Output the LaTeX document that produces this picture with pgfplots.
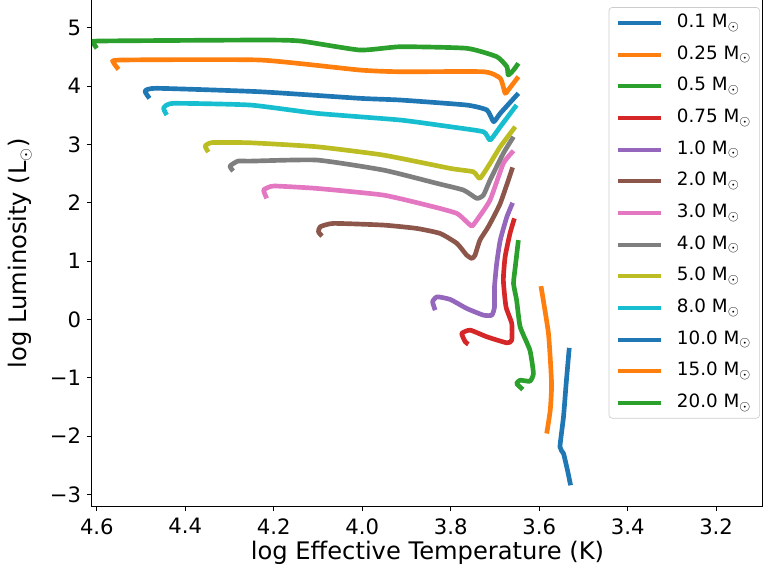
\documentclass[border=0pt]{standalone}
\usepackage{fontspec}
\setmainfont{DejaVu Sans}
\usepackage{pgfplots}
\pgfplotsset{compat=1.18}
\definecolor{c0}{HTML}{1F77B4}
\definecolor{c1}{HTML}{FF7F0E}
\definecolor{c2}{HTML}{2CA02C}
\definecolor{c3}{HTML}{D62728}
\definecolor{c4}{HTML}{9467BD}
\definecolor{c5}{HTML}{8C564B}
\definecolor{c6}{HTML}{E377C2}
\definecolor{c7}{HTML}{7F7F7F}
\definecolor{c8}{HTML}{BCBD22}
\definecolor{c9}{HTML}{17BECF}
\begin{document}
\begin{tikzpicture}
\begin{axis}[
  scale only axis,
  width=402.6pt, height=303.6pt,
  x dir=reverse,
  xmin=3.094, xmax=4.611,
  ymin=-3.2, ymax=5.475,
  xtick={3.2,3.4,3.6,3.8,4.0,4.2,4.4,4.6},
  xticklabels={3.2,3.4,3.6,3.8,4.0,4.2,4.4,4.6},
  ytick={-3,-2,-1,0,1,2,3,4,5},
  yticklabels={−3,−2,−1,0,1,2,3,4,5},
  tick align=outside,
  xtick pos=bottom, ytick pos=left,
  major tick length=3pt,
  tick style={black, line width=0.5pt},
  axis line style={line width=0.6pt},
  ticklabel style={font=\fontsize{12.7}{14}\selectfont},
  xticklabel style={yshift=-1pt},
  every axis x label/.style={at={(axis description cs:0.5,0)}, yshift=-28pt, anchor=center, font=\fontsize{14.5}{17}\selectfont},
  every axis y label/.style={at={(axis description cs:0,0.5)}, xshift=-43.2pt, rotate=90, anchor=center, font=\fontsize{14.5}{17}\selectfont},
  xlabel={log Effective Temperature (K)},
  ylabel={log Luminosity (L$_\odot$)},
  legend cell align=left,
  legend style={at={(rel axis cs:0.9955,0.986)}, anchor=north east,
    draw=black!20, rounded corners=2pt, fill=white,
    font=\fontsize{11}{13}\selectfont,
    nodes={inner sep=2pt, text height=8pt, text depth=2.5pt},
    row sep=4.5pt},
  legend image code/.code={\path (-1pt,0pt) (32pt,0pt);\draw[line width=2.4pt] (0pt,0pt) -- (26pt,0pt);},
  every axis plot/.append style={line width=2.8pt, line join=round, smooth, tension=0.3},
]
% 0.1
\addplot[c0] coordinates {(3.532,-0.489) (3.539,-1.100) (3.545,-1.672) (3.553,-2.187) (3.545,-2.300) (3.536,-2.587) (3.529,-2.844)};
\addlegendentry{0.1 M$_\odot$}
% 0.25
\addplot[c1] coordinates {(3.596,0.569) (3.579,-0.242) (3.572,-1.100) (3.575,-1.558) (3.583,-1.957)};
\addlegendentry{0.25 M$_\odot$}
% 0.5
\addplot[c2] coordinates {(3.647,1.358) (3.654,0.900) (3.658,0.616) (3.651,0.329) (3.643,-0.129) (3.621,-0.528) (3.613,-0.928) (3.621,-1.060) (3.643,-1.043) (3.651,-1.100) (3.637,-1.203)};
\addlegendentry{0.5 M$_\odot$}
% 0.75
\addplot[c3] coordinates {(3.656,1.731) (3.666,1.473) (3.677,1.072) (3.681,0.672) (3.675,0.214) (3.662,-0.070) (3.662,-0.357) (3.673,-0.403) (3.718,-0.300) (3.756,-0.185) (3.775,-0.242) (3.767,-0.386) (3.760,-0.426)};
\addlegendentry{0.75 M$_\odot$}
% 1.0
\addplot[c4] coordinates {(3.660,1.998) (3.673,1.758) (3.688,1.358) (3.696,0.959) (3.701,0.557) (3.701,0.214) (3.707,0.072) (3.726,0.072) (3.764,0.187) (3.801,0.341) (3.831,0.386) (3.841,0.300) (3.835,0.158)};
\addlegendentry{1.0 M$_\odot$}
% 2.0
\addplot[c5] coordinates {(4.091,1.427) (4.099,1.501) (4.095,1.587) (4.065,1.645) (3.952,1.616) (3.877,1.559) (3.824,1.473) (3.786,1.302) (3.764,1.101) (3.752,1.045) (3.745,1.101) (3.734,1.358) (3.715,1.587) (3.688,1.988) (3.660,2.605)};
\addlegendentry{2.0 M$_\odot$}
% 3.0
\addplot[c6] coordinates {(4.216,2.074) (4.223,2.216) (4.208,2.276) (4.193,2.285) (4.103,2.245) (3.952,2.130) (3.839,1.930) (3.786,1.816) (3.764,1.672) (3.752,1.599) (3.741,1.701) (3.711,2.045) (3.681,2.674) (3.658,2.890)};
\addlegendentry{3.0 M$_\odot$}
% 4.0
\addplot[c7] coordinates {(4.292,2.542) (4.299,2.628) (4.281,2.713) (4.253,2.713) (4.103,2.731) (3.952,2.559) (3.831,2.331) (3.771,2.216) (3.741,2.074) (3.726,2.130) (3.711,2.388) (3.681,2.846) (3.658,3.130)};
\addlegendentry{4.0 M$_\odot$}
% 5.0
\addplot[c8] coordinates {(4.348,2.868) (4.355,2.971) (4.339,3.031) (4.253,3.027) (4.103,2.959) (3.952,2.816) (3.801,2.588) (3.749,2.530) (3.734,2.417) (3.711,2.674) (3.688,2.959) (3.654,3.302)};
\addlegendentry{5.0 M$_\odot$}
% 8.0
\addplot[c9] coordinates {(4.442,3.503) (4.449,3.623) (4.427,3.703) (4.253,3.674) (4.103,3.532) (3.914,3.417) (3.801,3.302) (3.726,3.216) (3.711,3.074) (3.688,3.302) (3.651,3.674)};
\addlegendentry{8.0 M$_\odot$}
% 10.0
\addplot[c0] coordinates {(4.481,3.789) (4.491,3.914) (4.464,3.961) (4.231,3.902) (4.005,3.789) (3.914,3.760) (3.764,3.674) (3.718,3.588) (3.703,3.388) (3.688,3.532) (3.647,3.875)};
\addlegendentry{10.0 M$_\odot$}
% 15.0
\addplot[c1] coordinates {(4.551,4.286) (4.562,4.400) (4.547,4.446) (4.231,4.446) (4.005,4.274) (3.914,4.245) (3.726,4.245) (3.688,4.132) (3.677,3.875) (3.670,3.931) (3.647,4.160)};
\addlegendentry{15.0 M$_\odot$}
% 20.0
\addplot[c2] coordinates {(4.600,4.647) (4.608,4.743) (4.593,4.772) (4.231,4.789) (4.140,4.772) (4.005,4.617) (3.914,4.674) (3.764,4.647) (3.696,4.503) (3.673,4.331) (3.670,4.189) (3.658,4.274) (3.647,4.389)};
\addlegendentry{20.0 M$_\odot$}
\coordinate (SW) at (rel axis cs:0,0);
\coordinate (NE) at (rel axis cs:1,1);
\end{axis}
\pgfresetboundingbox
\path (SW) ++(-55.2pt,-40.2pt) rectangle (NE);
\end{tikzpicture}
\end{document}
